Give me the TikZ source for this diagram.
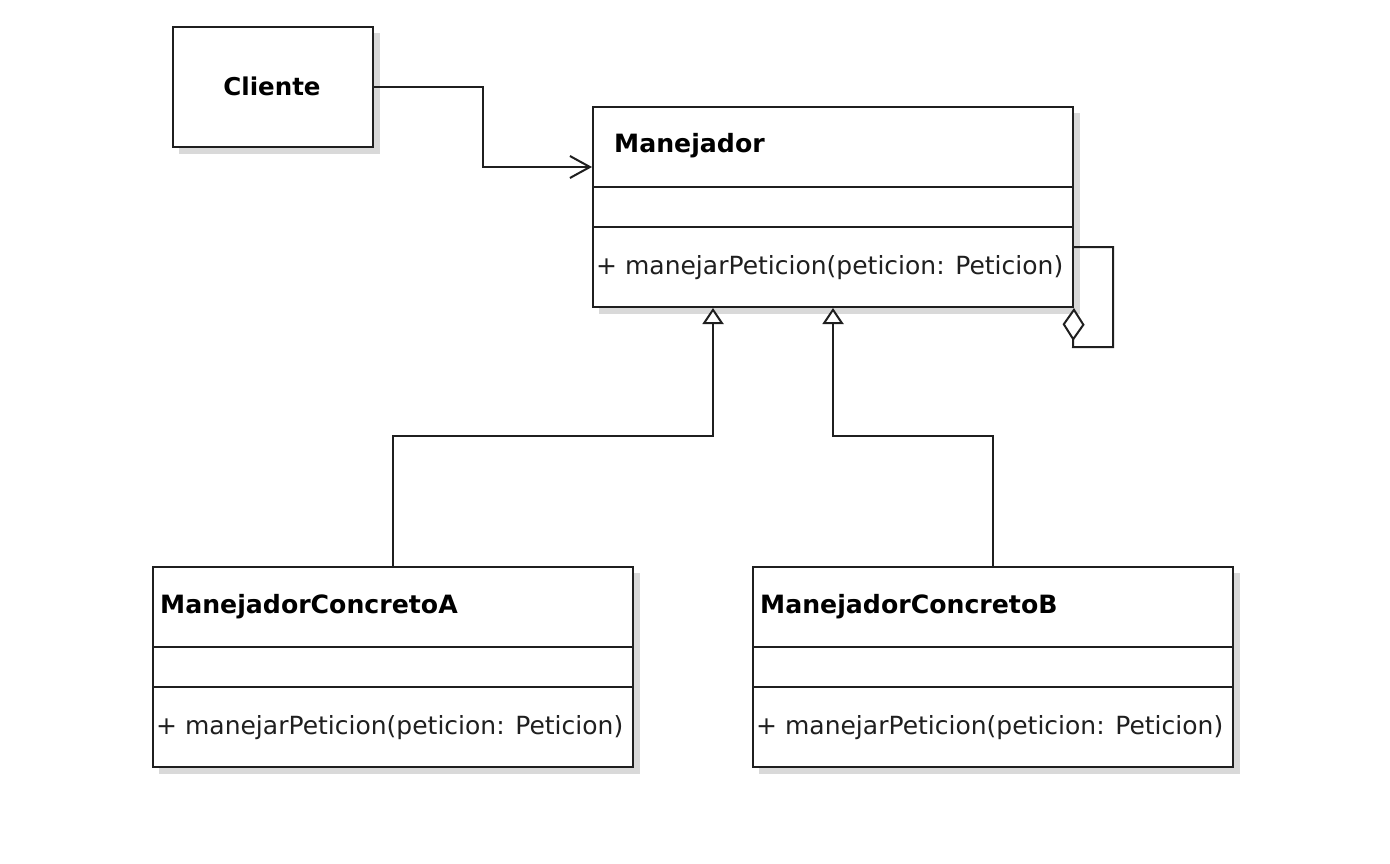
\documentclass[tikz,border=0pt]{standalone}
\usepackage{fontspec}
\setmainfont{DejaVu Sans}
\usetikzlibrary{arrows.meta}
\tikzset{
  box/.style={draw=black!88, line width=2pt, fill=white, rectangle, inner sep=0pt},
  shadowbox/.style={fill=black!15, draw=none},
  cls/.style={box, minimum width=480pt, minimum height=200pt},
  clitext/.style={font=\fontsize{24.5}{29}\selectfont\bfseries},
  titletext/.style={font=\fontsize{25.2}{29}\selectfont\bfseries, anchor=base west, inner sep=0pt},
  methtext/.style={font=\fontsize{25}{29}\selectfont, anchor=base west, inner sep=0pt, text=black!88},
  divider/.style={draw=black!88, line width=2pt},
  conn/.style={draw=black!88, line width=2pt},
  assoc/.style={conn, -{Straight Barb[length=20pt,width=22pt,line width=2pt]}},
  inh/.style={conn, -{Triangle[open,length=16pt,width=21pt,fill=white,line width=2pt]}},
  agg/.style={conn, -{Diamond[open,length=33pt,width=22pt,fill=white,line width=2pt]}},
}
\begin{document}
\begin{tikzpicture}[x=1pt,y=-1pt]
\useasboundingbox (0,0) rectangle (1390,864);
% shadows
\fill[shadowbox] (179,33) rectangle (380,154);
\fill[shadowbox] (599,113) rectangle (1080,314);
\fill[shadowbox] (159,573) rectangle (640,774);
\fill[shadowbox] (759,573) rectangle (1240,774);
% boxes
\node[box, minimum width=200pt, minimum height=120pt] (cli) at (273,87) {};
\node[clitext] (clit) at (272,86) {Cliente};
\node[cls] (man) at (833,207) {};
\node[cls] (a) at (393,667) {};
\node[cls] (b) at (993,667) {};
% dividers
\draw[divider] (593,187) -- (1073,187) (593,227) -- (1073,227);
\draw[divider] (153,647) -- (633,647) (153,687) -- (633,687);
\draw[divider] (753,647) -- (1233,647) (753,687) -- (1233,687);
% texts
\node[titletext] (mant) at (614,153) {Manejador};
\node[methtext] (manm) at (596,274) {+ manejarPeticion(peticion: Peticion)};
\node[titletext] (at) at (160,613) {ManejadorConcretoA};
\node[methtext] (am) at (156,734) {+ manejarPeticion(peticion: Peticion)};
\node[titletext] (bt) at (760,613) {ManejadorConcretoB};
\node[methtext] (bm) at (756,734) {+ manejarPeticion(peticion: Peticion)};
% connectors
\draw[assoc] (cli.east) -- (483,87) |- ([yshift=40pt]man.west);
\draw[inh] (a.north) -- ++(0,-130) -| ([xshift=-120pt]man.south);
\draw[inh] (b.north) -- ++(0,-130) -| (man.south);
\coordinate (loopa) at (1113,247);
\coordinate (loopb) at (1113,347);
\draw[agg] ([yshift=-40pt]man.east) -- (loopa) -- (loopb) -- (1073,347) -- (man.south east);
\end{tikzpicture}
\end{document}
